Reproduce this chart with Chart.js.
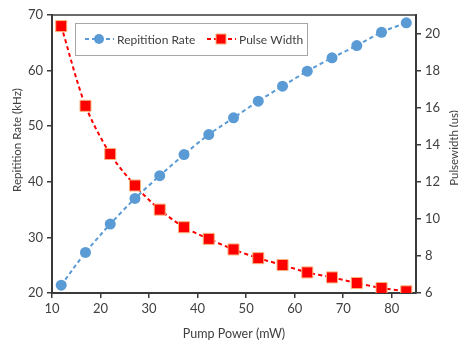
<!DOCTYPE html>
<html lang="en">
<head>
  <meta charset="UTF-8">
  <title>Repitition Rate / Pulse Width</title>
  <script src="https://cdn.jsdelivr.net/npm/chart.js"></script>
  <style>
    html, body { margin: 0; padding: 0; background: #fff; }
    #wrap { width: 458px; height: 341px; }
  </style>
</head>
<body>
<div id="wrap">
  <canvas id="lineChart" width="458" height="341"></canvas>
</div>

<script>
  // values
  const pumpPower = [11.9, 16.9, 22.0, 27.1, 32.2, 37.2, 42.3, 47.4, 52.5, 57.5, 62.6, 67.7, 72.8, 77.9, 83.0];
  const repRate   = [21.4, 27.3, 32.4, 37.0, 41.1, 44.9, 48.5, 51.5, 54.5, 57.2, 59.9, 62.3, 64.5, 66.9, 68.6];
  const pulseWidth = [20.4, 16.1, 13.5, 11.8, 10.5, 9.55, 8.92, 8.35, 7.88, 7.51, 7.11, 6.84, 6.54, 6.27, 6.09];

  const xTicks = [10, 20, 30, 40, 50, 60, 70, 80];
  const yLeftTicks = [20, 30, 40, 50, 60, 70];
  const yRightTicks = [6, 8, 10, 12, 14, 16, 18, 20];

  const textColor = '#404040';
  const axisColor = '#3a3a3a';
  const fontFamily = 'Lato, "Open Sans", sans-serif';

  const toPoints = (xs, ys) => xs.map((x, i) => ({ x: x, y: ys[i] }));

  // legend box inside the plot, with dashed line + marker samples
  const boxLegend = {
    id: 'boxLegend',
    afterDraw(chart) {
      const ctx = chart.ctx;
      const a = chart.chartArea;
      const bx = a.left + 23, by = a.top + 8, bw = 232, bh = 32;
      ctx.save();
      ctx.fillStyle = '#fff';
      ctx.fillRect(bx, by, bw, bh);
      ctx.strokeStyle = '#a6a6a6';
      ctx.lineWidth = 1;
      ctx.strokeRect(bx + 0.5, by + 0.5, bw, bh);

      const cy = by + bh / 2;
      const items = [
        { ds: chart.data.datasets[0], x0: bx + 10 },
        { ds: chart.data.datasets[1], x0: bx + 132 }
      ];
      ctx.font = '12px ' + fontFamily;
      ctx.textBaseline = 'middle';
      items.forEach(it => {
        ctx.strokeStyle = it.ds.borderColor;
        ctx.lineWidth = 2;
        ctx.setLineDash([4, 3]);
        ctx.beginPath();
        ctx.moveTo(it.x0, cy);
        ctx.lineTo(it.x0 + 29, cy);
        ctx.stroke();
        ctx.setLineDash([]);
        const mx = it.x0 + 14;
        ctx.fillStyle = it.ds.pointBackgroundColor;
        ctx.strokeStyle = it.ds.pointBorderColor;
        ctx.lineWidth = 1;
        if (it.ds.pointStyle === 'rect') {
          ctx.fillRect(mx - 5, cy - 5, 10, 10);
          ctx.strokeRect(mx - 5, cy - 5, 10, 10);
        } else {
          ctx.beginPath();
          ctx.arc(mx, cy, 5, 0, Math.PI * 2);
          ctx.fill();
        }
        ctx.fillStyle = textColor;
        ctx.fillText(it.ds.label, it.x0 + 32, cy + 1);
      });
      ctx.restore();
    }
  };

  // top border of the plot area + both vertical axis titles (bottom-to-top)
  const frame = {
    id: 'frame',
    beforeDatasetsDraw(chart) {
      const a = chart.chartArea;
      const ctx = chart.ctx;
      ctx.save();
      ctx.strokeStyle = axisColor;
      ctx.lineWidth = 1.5;
      ctx.beginPath();
      ctx.moveTo(a.left, a.top);
      ctx.lineTo(a.right, a.top);
      ctx.stroke();

      ctx.fillStyle = textColor;
      ctx.font = '11.5px ' + fontFamily;
      ctx.textAlign = 'center';
      ctx.textBaseline = 'middle';
      const titles = [
        { text: 'Repitition Rate (kHz)', x: 17, y: 140 },
        { text: 'Pulsewidth (us)', x: 454, y: 148 }
      ];
      titles.forEach(t => {
        ctx.save();
        ctx.translate(t.x, t.y);
        ctx.rotate(-Math.PI / 2);
        ctx.fillText(t.text, 0, 0);
        ctx.restore();
      });
      ctx.restore();
    }
  };

  const config = {
    type: 'scatter',
    data: {
      datasets: [
        {
          label: 'Repitition Rate',
          data: toPoints(pumpPower, repRate),
          yAxisID: 'y',
          showLine: true,
          tension: 0.3,
          borderColor: '#5b9bd5',
          borderWidth: 2,
          borderDash: [4, 3],
          pointStyle: 'circle',
          pointRadius: 5.5,
          pointBackgroundColor: '#5b9bd5',
          pointBorderColor: '#5b9bd5',
          pointBorderWidth: 0
        },
        {
          label: 'Pulse Width',
          data: toPoints(pumpPower, pulseWidth),
          yAxisID: 'y2',
          showLine: true,
          tension: 0.3,
          borderColor: '#ff0000',
          borderWidth: 2,
          borderDash: [4, 3],
          pointStyle: 'rect',
          pointRadius: 7.8,
          pointBackgroundColor: '#ff0000',
          pointBorderColor: '#f8b37c',
          pointBorderWidth: 1
        }
      ]
    },
    options: {
      responsive: false,
      animation: false,
      layout: { padding: { top: 15, left: 0, right: 0, bottom: 0 } },
      plugins: {
        legend: { display: false },
        tooltip: { enabled: false }
      },
      scales: {
        x: {
          type: 'linear',
          min: 10,
          max: 85,
          afterBuildTicks: s => { s.ticks = xTicks.map(v => ({ value: v })); },
          afterFit: s => { s.height = 48; },
          grid: { drawOnChartArea: false, drawTicks: true, tickLength: 5, color: axisColor, lineWidth: 1.5 },
          border: { display: true, color: axisColor, width: 2 },
          ticks: { color: textColor, font: { size: 13, family: fontFamily }, padding: 3, maxRotation: 0 },
          title: { display: true, text: 'Pump Power (mW)', color: textColor, font: { size: 12.5, family: fontFamily }, padding: { top: 2, bottom: 0 } }
        },
        y: {
          type: 'linear',
          position: 'left',
          min: 20,
          max: 70,
          afterBuildTicks: s => { s.ticks = yLeftTicks.map(v => ({ value: v })); },
          afterFit: s => { s.width = 52; },
          grid: { drawOnChartArea: false, drawTicks: true, tickLength: 5, color: axisColor, lineWidth: 1.5 },
          border: { display: true, color: axisColor, width: 2 },
          ticks: { color: textColor, font: { size: 13, family: fontFamily }, padding: 4 }
        },
        y2: {
          type: 'linear',
          position: 'right',
          min: 6,
          max: 21,
          afterBuildTicks: s => { s.ticks = yRightTicks.map(v => ({ value: v })); },
          afterFit: s => { s.width = 42; },
          grid: { drawOnChartArea: false, drawTicks: true, tickLength: 5, color: axisColor, lineWidth: 1.5 },
          border: { display: true, color: axisColor, width: 2 },
          ticks: { color: textColor, font: { size: 13, family: fontFamily }, padding: 4 }
        }
      }
    },
    plugins: [frame, boxLegend]
  };

  const myChart = new Chart(document.getElementById('lineChart'), config);
</script>
</body>
</html>
